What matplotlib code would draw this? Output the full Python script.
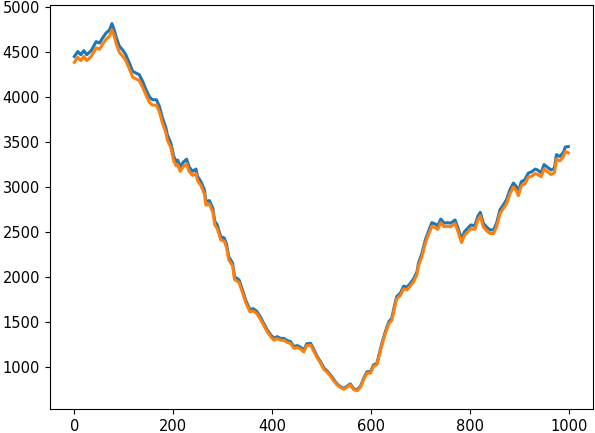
import matplotlib
matplotlib.use("Agg")
import matplotlib.pyplot as plt

# x positions (step index)
steps = [0, 7, 13, 19, 25, 34, 44, 51, 57, 64, 71, 76, 80, 85, 91, 98, 104, 111, 118, 125,
         131, 138, 145, 152, 158, 166, 172, 178, 185, 188, 195, 201, 206, 209, 214, 220, 227, 232, 239, 246,
         249, 256, 263, 266, 273, 280, 284, 289, 296, 303, 308, 312, 320, 324, 333, 340, 346, 355, 362, 369,
         376, 384, 390, 397, 404, 410, 417, 424, 431, 437, 444, 451, 458, 464, 470, 478, 485, 491, 498, 505,
         511, 518, 525, 531, 538, 545, 552, 558, 565, 572, 579, 585, 592, 599, 605, 612, 616, 622, 629, 636,
         642, 647, 652, 659, 666, 673, 680, 686, 693, 696, 703, 710, 716, 723, 730, 735, 741, 748, 755, 761,
         770, 776, 783, 789, 796, 802, 810, 816, 821, 827, 834, 841, 848, 854, 861, 868, 874, 881, 888, 894,
         898, 904, 911, 918, 925, 932, 937, 944, 950, 957, 964, 971, 975, 982, 989, 993, 999]

series_a = [4450, 4505, 4470, 4515, 4470, 4515, 4615, 4600, 4655, 4710, 4745, 4815, 4755, 4655, 4565, 4520, 4470, 4380, 4285, 4265,
            4250, 4175, 4080, 4000, 3970, 3970, 3895, 3770, 3660, 3580, 3490, 3340, 3285, 3300, 3225, 3275, 3310, 3225, 3175, 3200,
            3120, 3060, 2970, 2840, 2850, 2765, 2620, 2580, 2450, 2435, 2360, 2230, 2155, 2005, 1970, 1860, 1750, 1640, 1650, 1620,
            1560, 1475, 1415, 1360, 1320, 1340, 1320, 1320, 1295, 1285, 1230, 1240, 1220, 1190, 1260, 1265, 1190, 1120, 1060, 990,
            960, 915, 860, 815, 785, 765, 790, 815, 760, 750, 790, 877, 950, 950, 1025, 1045, 1135, 1265, 1395, 1505,
            1545, 1670, 1785, 1820, 1900, 1890, 1935, 1980, 2060, 2155, 2265, 2415, 2505, 2605, 2590, 2570, 2645, 2600, 2605, 2600,
            2635, 2545, 2420, 2505, 2545, 2580, 2570, 2675, 2720, 2600, 2555, 2525, 2525, 2600, 2750, 2805, 2860, 2970, 3045, 3005,
            2950, 3060, 3080, 3155, 3170, 3200, 3190, 3160, 3250, 3220, 3190, 3210, 3360, 3340, 3385, 3445, 3450]

series_b = [4385, 4440, 4405, 4450, 4405, 4450, 4545, 4530, 4585, 4640, 4675, 4745, 4685, 4585, 4495, 4450, 4405, 4315, 4220, 4200,
            4185, 4110, 4020, 3940, 3910, 3910, 3835, 3715, 3605, 3525, 3440, 3290, 3235, 3250, 3175, 3225, 3260, 3175, 3130, 3150,
            3075, 3015, 2925, 2800, 2810, 2725, 2580, 2540, 2415, 2400, 2325, 2195, 2125, 1975, 1940, 1830, 1725, 1615, 1625, 1595,
            1535, 1455, 1395, 1340, 1300, 1320, 1300, 1300, 1275, 1265, 1210, 1220, 1200, 1170, 1240, 1245, 1170, 1105, 1045, 975,
            945, 900, 845, 805, 775, 755, 780, 805, 750, 740, 780, 865, 935, 935, 1010, 1030, 1120, 1245, 1375, 1485,
            1520, 1645, 1760, 1795, 1870, 1860, 1905, 1950, 2030, 2125, 2230, 2380, 2470, 2565, 2550, 2530, 2605, 2560, 2565, 2560,
            2595, 2505, 2385, 2465, 2505, 2540, 2530, 2635, 2680, 2560, 2515, 2485, 2485, 2560, 2710, 2765, 2815, 2925, 3000, 2960,
            2905, 3015, 3035, 3110, 3120, 3150, 3140, 3115, 3200, 3170, 3140, 3160, 3310, 3290, 3335, 3395, 3380]

fig = plt.figure(figsize=(5.95, 4.33), dpi=100)
ax = fig.add_axes([0.0835, 0.0554, 0.9131, 0.9324])
ax.plot(steps, series_a, color="#1f77b4", linewidth=2.2)
ax.plot(steps, series_b, color="#ff7f0e", linewidth=2.2)

ax.set_xticks([0, 200, 400, 600, 800, 1000])
ax.set_yticks([1000, 1500, 2000, 2500, 3000, 3500, 4000, 4500, 5000])
ax.tick_params(labelsize=10.5)

fig.savefig("out.png", dpi=100)
